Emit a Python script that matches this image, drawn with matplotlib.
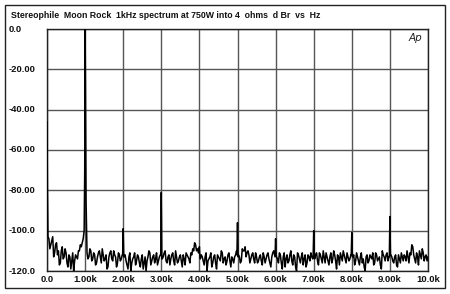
import numpy as np
import matplotlib
matplotlib.use("Agg")
import matplotlib.pyplot as plt
import matplotlib.transforms as mtransforms
from matplotlib.patches import Rectangle

# ---------------- data ----------------
title = "Stereophile  Moon Rock  1kHz spectrum at 750W into 4  ohms  d Br  vs  Hz"
x_tick_vals = [0, 1000, 2000, 3000, 4000, 5000, 6000, 7000, 8000, 9000, 10000]
x_tick_labels = ["0.0", "1.00k", "2.00k", "3.00k", "4.00k", "5.00k",
                 "6.00k", "7.00k", "8.00k", "9.00k", "10.0k"]
y_tick_vals = [0, -20, -40, -60, -80, -100, -120]
y_tick_labels = ["0.0", "-20.00", "-40.00", "-60.00", "-80.00", "-100.0", "-120.0"]

# spectrum levels (dBr) on a 50 Hz grid, 0 .. 10 kHz
grid_step_hz = 50
level_db = [
    -46, -104, -107, -103, -111, -106, -110, -116, -108, -113,
    -111, -118, -113, -115, -120, -112, -114, -110, -108, -104,
    0, -111, -113, -110, -114, -112, -116, -111, -113, -109,
    -115, -112, -118, -111, -114, -110, -113, -116, -112, -114,
    -99, -112, -117, -113, -120, -114, -111, -115, -113, -118,
    -112, -116, -120, -113, -111, -115, -112, -114, -117, -113,
    -81, -113, -110, -116, -112, -114, -111, -117, -113, -115,
    -112, -118, -114, -111, -113, -116, -112, -110, -107, -109,
    -108, -112, -115, -113, -120, -114, -111, -116, -112, -119,
    -113, -115, -111, -114, -117, -112, -115, -113, -116, -112,
    -96, -113, -115, -110, -108, -111, -112, -114, -111, -116,
    -113, -115, -112, -117, -113, -114, -111, -116, -113, -110,
    -104, -114, -111, -116, -113, -118, -112, -115, -110, -117,
    -113, -120, -112, -116, -111, -114, -118, -112, -115, -113,
    -100, -112, -115, -111, -114, -110, -116, -113, -117, -111,
    -114, -112, -119, -113, -111, -115, -112, -116, -113, -114,
    -101, -112, -115, -113, -117, -111, -114, -120, -112, -115,
    -113, -111, -116, -112, -114, -117, -110, -113, -112, -115,
    -93, -113, -116, -112, -118, -114, -111, -115, -113, -110,
    -116, -112, -108, -114, -111, -117, -112, -109, -115, -112,
    -113,
]

# levels between the grid points (25, 75, ... 9975 Hz)
level_mid_db = [
    -103, -109, -105, -113, -107, -112, -117, -110, -114, -109,
    -116, -112, -119, -111, -115, -113, -110, -107, -106, -100,
    -85, -114, -109, -115, -111, -117, -113, -110, -116, -112,
    -114, -119, -113, -110, -115, -112, -118, -111, -115, -112,
    -113, -115, -119, -111, -116, -113, -117, -112, -116, -114,
    -119, -113, -115, -110, -117, -113, -116, -111, -115, -112,
    -114, -111, -115, -113, -117, -112, -115, -110, -116, -113,
    -115, -112, -117, -112, -114, -111, -109, -106, -110, -111,
    -114, -113, -117, -111, -115, -113, -118, -113, -116, -112,
    -114, -110, -116, -113, -115, -111, -118, -114, -113, -110,
    -112, -116, -109, -110, -113, -110, -116, -112, -114, -111,
    -116, -113, -115, -111, -116, -112, -114, -118, -111, -112,
    -113, -116, -112, -119, -111, -114, -116, -112, -115, -112,
    -118, -111, -114, -113, -117, -112, -116, -113, -111, -114,
    -114, -111, -117, -112, -116, -113, -111, -115, -113, -116,
    -110, -115, -112, -117, -113, -110, -114, -111, -115, -112,
    -113, -117, -111, -115, -113, -116, -118, -113, -116, -112,
    -114, -117, -111, -115, -113, -119, -112, -115, -111, -113,
    -112, -115, -113, -117, -112, -116, -113, -112, -115, -113,
    -111, -107, -112, -116, -113, -110, -114, -111, -113, -115,
]

# extra points read near the DC line, the fundamental and the harmonic spikes
extra_hz = [10, 990, 1010,
            1985, 2015, 2985, 3015, 3985, 4015, 4985, 5015,
            5985, 6015, 6985, 7015, 7985, 8015, 8985, 9015]
extra_db = [-78, -70, -28,
            -112, -113, -112, -114, -111, -113, -112, -113,
            -113, -112, -113, -112, -112, -113, -113, -112]

# ---------------- build trace ----------------
grid_hz = np.arange(len(level_db)) * grid_step_hz
mid_hz = np.arange(len(level_mid_db)) * grid_step_hz + grid_step_hz / 2
f_all = np.concatenate([grid_hz, mid_hz, np.array(extra_hz, float)])
l_all = np.concatenate([np.array(level_db, float), np.array(level_mid_db, float),
                        np.array(extra_db, float)])
order = np.argsort(f_all, kind="stable")
f_all = f_all[order]
l_all = l_all[order]

# ---------------- figure ----------------
W, H = 450, 294
fig = plt.figure(figsize=(W / 100, H / 100), dpi=100)
fig.patch.set_facecolor("white")

# outer frame
fig.patches.append(Rectangle((5 / W, 1 - 288 / H), 440 / W, 283 / H,
                             transform=fig.transFigure, fill=False,
                             edgecolor="#222222", linewidth=1.0))

ax = fig.add_axes([47 / W, 1 - 271 / H, 381 / W, 242 / H])
ax.set_xlim(0, 10000)
ax.set_ylim(-120, 0)
ax.set_xticks(x_tick_vals)
ax.set_yticks(y_tick_vals)
ax.set_xticklabels([])
ax.set_yticklabels([])
ax.tick_params(length=0)
ax.grid(True, color="#555555", linewidth=1.0)
ax.set_axisbelow(True)
for s in ax.spines.values():
    s.set_color("#222222")
    s.set_linewidth(1.0)

ax.plot(f_all, l_all, color="black", linewidth=1.1, clip_on=True, zorder=3)

lab_font = dict(family=["Liberation Sans", "DejaVu Sans"], fontsize=6.8,
                fontweight="bold", color="#111111")

ytrans = mtransforms.blended_transform_factory(fig.transFigure, ax.transData)
for v, t in zip(y_tick_vals, y_tick_labels):
    fig.text(9 / W, v, t, transform=ytrans, ha="left", va="center", **lab_font)

xtrans = mtransforms.blended_transform_factory(ax.transData, fig.transFigure)
for v, t in zip(x_tick_vals, x_tick_labels):
    fig.text(v, 1 - 280 / H, t, transform=xtrans, ha="center", va="center",
             **lab_font)

fig.text(11 / W, 1 - 15 / H, title, ha="left", va="center",
         family=["Liberation Sans", "DejaVu Sans"], fontsize=6.3,
         fontweight="bold", color="#111111")

ax.text(0.985, 0.985, "Ap", transform=ax.transAxes, ha="right", va="top",
        family=["DejaVu Sans"], fontsize=7.5, style="italic",
        color="#222222")

fig.savefig("out.png", dpi=100, facecolor="white")
